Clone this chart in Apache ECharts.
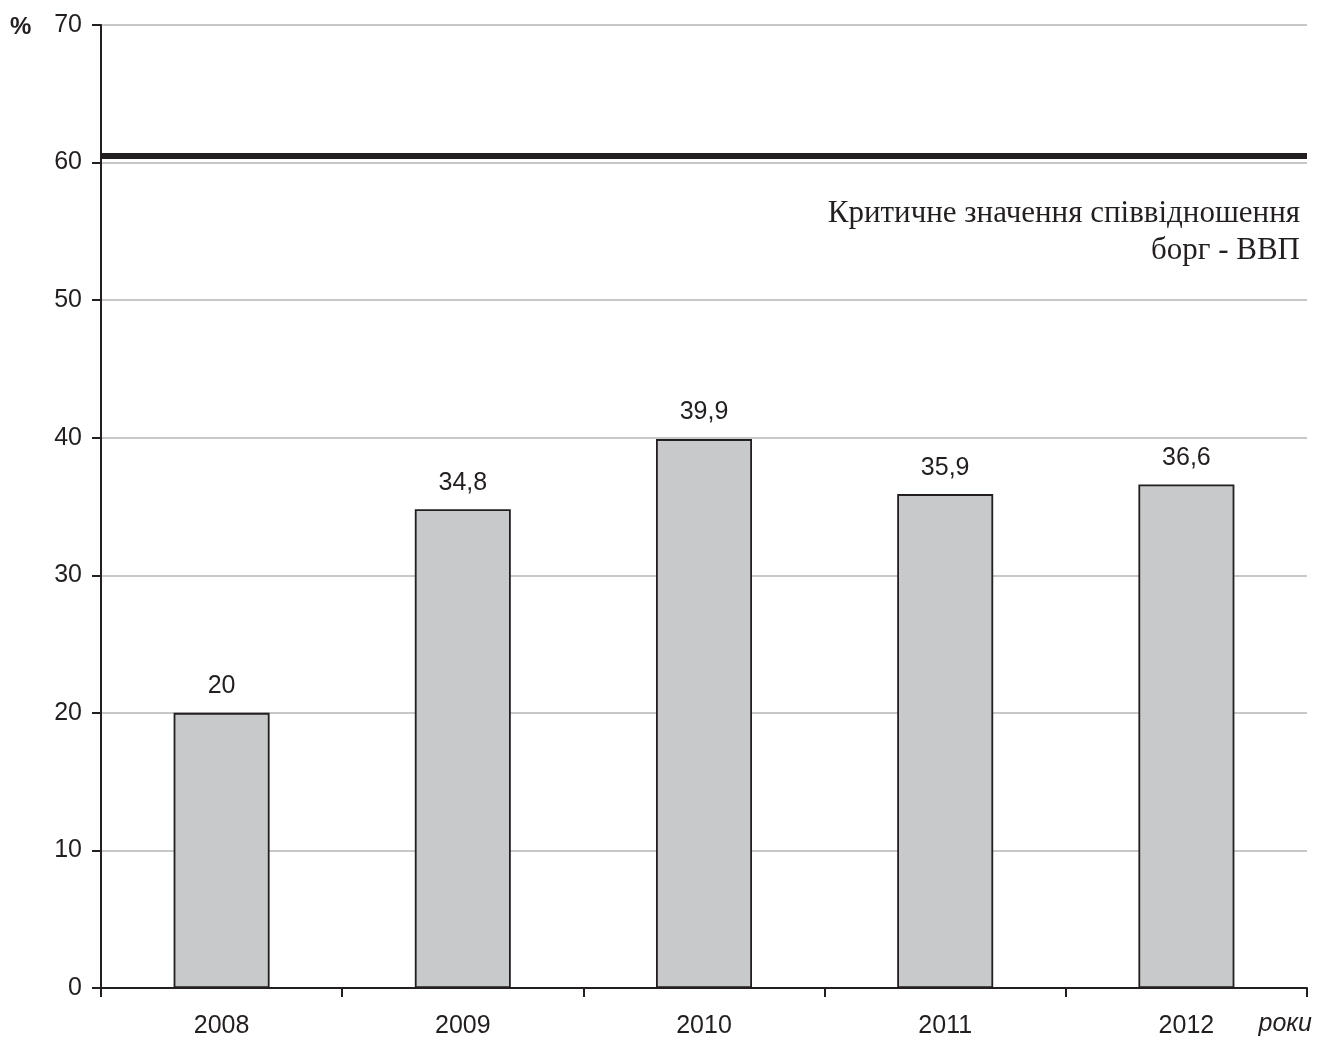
<!DOCTYPE html>
<html><head><meta charset="utf-8">
<script src="https://cdn.jsdelivr.net/npm/echarts@6/dist/echarts.min.js"></script>
<style>html,body{margin:0;padding:0;background:#fff}#c{width:1332px;height:1041px}</style>
</head><body><div id="c"></div>
<script>
const years = ['2008','2009','2010','2011','2012'];
const debtRatio = [20, 34.8, 39.9, 35.9, 36.6];
const criticalLevel = 60.5;
const labelTexts = ['20','34,8','39,9','35,9','36,6'];
const noteLines = ['Критичне значення співвідношення', 'борг - ВВП'];

const NARROW = '"Liberation Sans Narrow", "Arial Narrow", sans-serif';
const chart = echarts.init(document.getElementById('c'), null, {renderer:'canvas'});
chart.setOption({
  animation:false,
  backgroundColor:'#fff',
  grid:{left:101, right:25, top:25, bottom:53, containLabel:false},
  xAxis:{
    type:'category', data:years, boundaryGap:true,
    axisLine:{lineStyle:{color:'#231f20', width:2}},
    axisTick:{show:true, alignWithLabel:false, length:9, lineStyle:{color:'#231f20', width:2}},
    axisLabel:{color:'#231f20', fontFamily:NARROW, fontSize:25, margin:26}
  },
  yAxis:{
    type:'value', min:0, max:70, interval:10,
    axisLine:{show:true, lineStyle:{color:'#231f20', width:2}},
    axisTick:{show:true, length:9, lineStyle:{color:'#231f20', width:2}},
    axisLabel:{color:'#231f20', fontFamily:NARROW, fontSize:25, margin:19},
    splitLine:{lineStyle:{color:'#c8c8c8', width:2}}
  },
  series:[{
    type:'bar', data:debtRatio, barWidth:96,
    itemStyle:{color:'#c8c9cb', borderColor:'#231f20', borderWidth:1.8},
    label:{show:true, position:'top', distance:14, color:'#231f20', fontFamily:NARROW, fontSize:25,
      formatter:p=>labelTexts[p.dataIndex]},
    markLine:{
      silent:true, symbol:['none','none'], label:{show:false},
      lineStyle:{color:'#231f20', width:6, type:'solid'},
      data:[{yAxis:criticalLevel}]
    }
  }],
  graphic:[
    {type:'text', left:10, top:15, style:{text:'%', font:'bold 24px "Liberation Sans", Arial, sans-serif', fill:'#231f20'}},
    {type:'text', right:20, top:1012, style:{text:'роки', font:'italic 25px '+NARROW, fill:'#231f20'}},
    {type:'text', right:32, top:198, style:{text:noteLines[0], font:'31px "Liberation Serif", "Times New Roman", serif', fill:'#231f20'}},
    {type:'text', right:32, top:235, style:{text:noteLines[1], font:'31px "Liberation Serif", "Times New Roman", serif', fill:'#231f20'}}
  ]
});
</script></body></html>
